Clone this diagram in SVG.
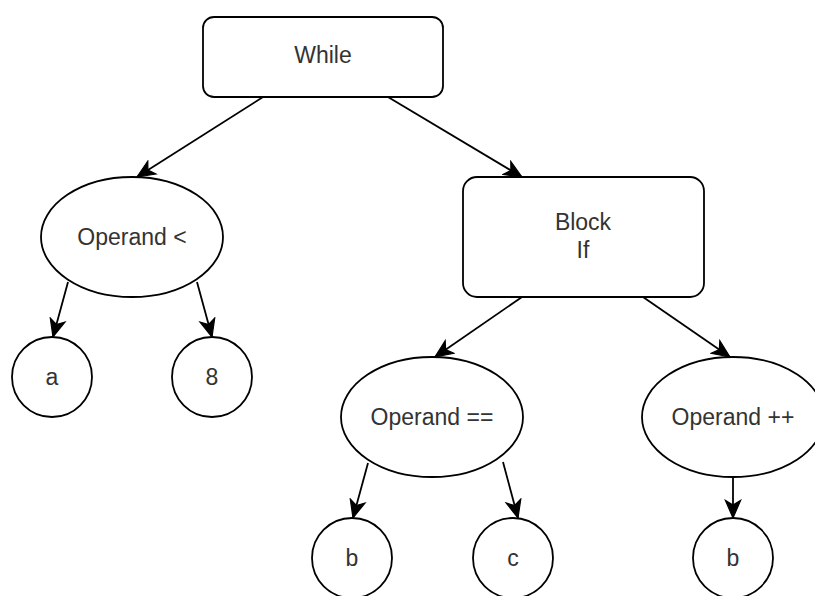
<svg xmlns="http://www.w3.org/2000/svg" width="815" height="596" viewBox="0 0 815 596">
  <style>
    .shape { fill: #ffffff; stroke: #000000; stroke-width: 1.8; }
    .label { font-family: "Liberation Sans", Arial, Helvetica, sans-serif; font-size: 23px; fill: #333333; text-anchor: middle; }
    .edge { fill: none; stroke: #000000; stroke-width: 1.8; marker-end: url(#arrow); }
  </style>
  <defs>
    <marker id="arrow" markerUnits="userSpaceOnUse" markerWidth="20" markerHeight="20" viewBox="-16 -8 17 16" refX="0" refY="0" orient="auto">
      <path d="M0,0 L-15,-6.5 L-11,0 L-15,6.5 Z" fill="#000000" stroke="#000000" stroke-width="1"/>
    </marker>
  </defs>
  <rect width="815" height="596" fill="#ffffff"/>

  <!-- connectors -->
  <g id="edges">
    <line class="edge" x1="263" y1="97" x2="137" y2="177"/>
    <line class="edge" x1="388" y1="97" x2="522" y2="177"/>
    <line class="edge" x1="68" y1="282" x2="53" y2="337"/>
    <line class="edge" x1="197" y1="282" x2="212" y2="337"/>
    <line class="edge" x1="522" y1="297" x2="435" y2="357"/>
    <line class="edge" x1="643" y1="297" x2="730" y2="357"/>
    <line class="edge" x1="368" y1="463" x2="353" y2="518"/>
    <line class="edge" x1="503" y1="462" x2="518" y2="518"/>
    <line class="edge" x1="733" y1="478" x2="733" y2="518"/>
  </g>

  <!-- nodes -->
  <g id="while">
    <rect class="shape" x="203" y="17" width="240" height="80" rx="11" ry="11"/>
    <text class="label" x="323" y="63">While</text>
  </g>
  <g id="operand-lt">
    <ellipse class="shape" cx="132" cy="237" rx="91" ry="60"/>
    <text class="label" x="132" y="245">Operand &lt;</text>
  </g>
  <g id="leaf-a">
    <circle class="shape" cx="52" cy="377" r="40"/>
    <text class="label" x="52" y="385">a</text>
  </g>
  <g id="leaf-8">
    <circle class="shape" cx="212" cy="377" r="40"/>
    <text class="label" x="212" y="385">8</text>
  </g>
  <g id="block-if">
    <rect class="shape" x="463" y="177" width="241" height="120" rx="14" ry="14"/>
    <text class="label" x="583" y="230">Block</text>
    <text class="label" x="583" y="258">If</text>
  </g>
  <g id="operand-eq">
    <ellipse class="shape" cx="432" cy="417" rx="91" ry="60"/>
    <text class="label" x="432" y="425">Operand ==</text>
  </g>
  <g id="operand-inc">
    <ellipse class="shape" cx="733" cy="417" rx="91" ry="60"/>
    <text class="label" x="733" y="425">Operand ++</text>
  </g>
  <g id="leaf-b1">
    <circle class="shape" cx="352" cy="558" r="40"/>
    <text class="label" x="352" y="566">b</text>
  </g>
  <g id="leaf-c">
    <circle class="shape" cx="513" cy="558" r="40"/>
    <text class="label" x="513" y="566">c</text>
  </g>
  <g id="leaf-b2">
    <circle class="shape" cx="733" cy="558" r="40"/>
    <text class="label" x="733" y="566">b</text>
  </g>
</svg>
